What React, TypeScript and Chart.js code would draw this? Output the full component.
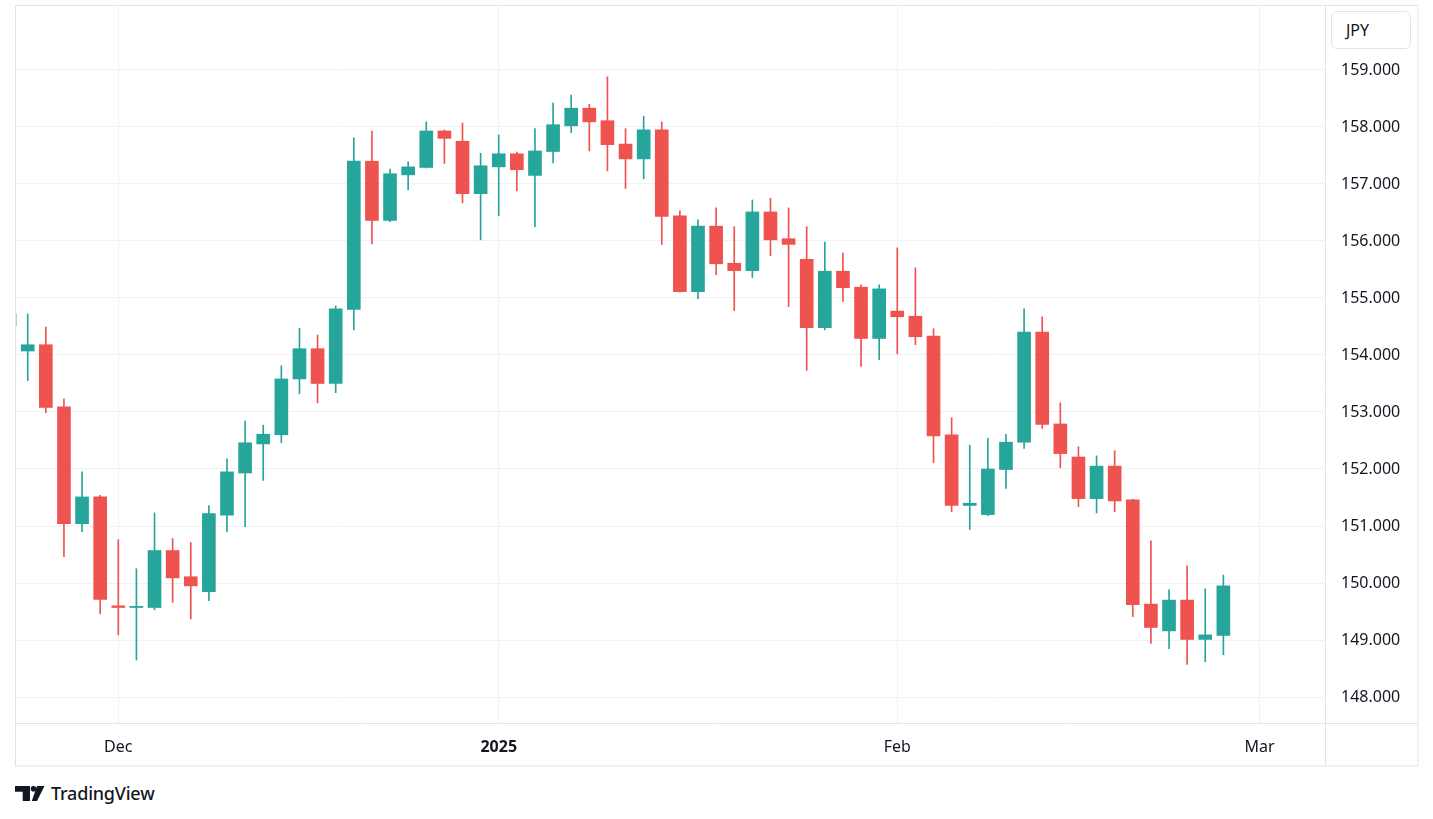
import React, { useEffect, useRef } from 'react';
import { Chart, registerables } from 'chart.js';

Chart.register(...registerables);

// Trading days shown (USD/JPY daily candles)
const dates = [
  '2024-11-22', '2024-11-25', '2024-11-26', '2024-11-27', '2024-11-28', '2024-11-29',
  '2024-12-02', '2024-12-03', '2024-12-04', '2024-12-05', '2024-12-06',
  '2024-12-09', '2024-12-10', '2024-12-11', '2024-12-12', '2024-12-13',
  '2024-12-16', '2024-12-17', '2024-12-18', '2024-12-19', '2024-12-20',
  '2024-12-23', '2024-12-24', '2024-12-26', '2024-12-27', '2024-12-30', '2024-12-31',
  '2025-01-02', '2025-01-03',
  '2025-01-06', '2025-01-07', '2025-01-08', '2025-01-09', '2025-01-10',
  '2025-01-13', '2025-01-14', '2025-01-15', '2025-01-16', '2025-01-17',
  '2025-01-20', '2025-01-21', '2025-01-22', '2025-01-23', '2025-01-24',
  '2025-01-27', '2025-01-28', '2025-01-29', '2025-01-30', '2025-01-31',
  '2025-02-03', '2025-02-04', '2025-02-05', '2025-02-06', '2025-02-07',
  '2025-02-10', '2025-02-11', '2025-02-12', '2025-02-13', '2025-02-14',
  '2025-02-17', '2025-02-18', '2025-02-19', '2025-02-20', '2025-02-21',
  '2025-02-24', '2025-02-25', '2025-02-26', '2025-02-27',
];

const opens = [
  154.51, 154.07, 154.18, 153.09, 151.04, 151.51,
  149.60, 149.57, 149.57, 150.57, 150.11,
  149.85, 151.19, 151.93, 152.44, 152.60,
  153.58, 154.11, 153.50, 154.80, 157.40,
  156.36, 157.16, 157.29, 157.93, 157.75, 156.83,
  157.30, 157.53,
  157.15, 157.57, 158.02, 158.33, 158.11,
  157.70, 157.44, 157.95, 156.44, 155.11,
  156.26, 155.61, 155.48, 156.51, 156.04,
  155.68, 154.48, 155.47, 155.19, 154.29,
  154.77, 154.68, 154.33, 152.60, 151.36,
  151.20, 151.99, 152.47, 154.40, 152.79,
  152.21, 151.48, 152.05, 151.46, 149.63,
  149.16, 149.70, 149.01, 149.08,
];

const highs = [
  154.90, 154.72, 154.49, 153.23, 151.95, 151.54,
  150.76, 150.25, 151.23, 150.78, 150.71,
  151.36, 152.18, 152.84, 152.77, 153.81,
  154.47, 154.35, 154.86, 157.81, 157.93,
  157.26, 157.39, 158.09, 157.95, 158.07, 157.54,
  157.86, 157.56,
  157.97, 158.42, 158.56, 158.40, 158.88,
  157.97, 158.19, 158.09, 156.53, 156.37,
  156.58, 156.25, 156.72, 156.75, 156.58,
  156.25, 155.98, 155.79, 155.23, 155.23,
  155.88, 155.53, 154.46, 152.90, 152.42,
  152.54, 152.61, 154.81, 154.67, 153.16,
  152.39, 152.23, 152.32, 151.47, 150.74,
  149.88, 150.30, 149.90, 150.14,
];

const lows = [
  154.30, 153.55, 152.99, 150.46, 150.90, 149.46,
  149.09, 148.65, 149.53, 149.66, 149.37,
  149.69, 150.90, 150.99, 151.80, 152.46,
  153.32, 153.16, 153.34, 154.44, 155.95,
  156.34, 156.90, 157.28, 157.36, 156.67, 156.02,
  156.44, 156.88,
  156.25, 157.37, 157.90, 157.58, 157.23,
  156.92, 157.09, 155.94, 155.10, 154.99,
  155.41, 154.78, 155.36, 155.74, 154.85,
  153.73, 154.44, 154.94, 153.80, 153.92,
  154.02, 154.18, 152.11, 151.25, 150.94,
  151.18, 151.66, 152.36, 152.71, 152.02,
  151.34, 151.23, 151.25, 149.41, 148.94,
  148.85, 148.57, 148.62, 148.74,
];

const closes = [
  154.72, 154.18, 153.08, 151.04, 151.51, 149.71,
  149.57, 149.59, 150.57, 150.09, 149.95,
  151.22, 151.95, 152.46, 152.61, 153.58,
  154.11, 153.50, 154.81, 157.40, 156.36,
  157.18, 157.30, 157.93, 157.80, 156.83, 157.32,
  157.53, 157.25,
  157.58, 158.04, 158.33, 158.09, 157.69,
  157.44, 157.95, 156.43, 155.11, 156.26,
  155.60, 155.48, 156.51, 156.02, 155.94,
  154.48, 155.47, 155.18, 154.29, 155.16,
  154.67, 154.32, 152.58, 151.36, 151.40,
  152.00, 152.47, 154.40, 152.78, 152.27,
  151.48, 152.05, 151.44, 149.62, 149.22,
  149.70, 149.01, 149.09, 149.95,
];

const priceTicks = [148, 149, 150, 151, 152, 153, 154, 155, 156, 157, 158, 159];
const timeTickPositions = [6, 27, 49, 69];
const timeTickLabels = ['Dec', '2025', 'Feb', 'Mar'];
const currencyLabel = 'JPY';

const UP = '#26a69a';
const DOWN = '#ef5350';
const LINE = '#e0e3eb';
const GRID = '#f0f1f3';
const TEXT = '#131722';
const FONT = "'Noto Sans', sans-serif";

export default function App() {
  const ref = useRef<HTMLCanvasElement>(null);

  useEffect(() => {
    if (!ref.current) return;
    const colorAt = (ctx: any) =>
      closes[ctx.dataIndex] >= opens[ctx.dataIndex] ? UP : DOWN;
    const wickData = dates.map((_, i) => ({ x: i, y: [lows[i], highs[i]] }));
    const bodyData = dates.map((_, i) => ({ x: i, y: [opens[i], closes[i]] }));

    const frame = {
      id: 'frame',
      afterDraw(chart: any) {
        const { ctx, chartArea, width, height } = chart;
        ctx.save();
        ctx.strokeStyle = LINE;
        ctx.lineWidth = 1;
        ctx.beginPath();
        ctx.rect(0.5, 0.5, width - 1.5, height - 1.5);
        ctx.moveTo(Math.round(chartArea.right) + 0.5, 0);
        ctx.lineTo(Math.round(chartArea.right) + 0.5, height - 1);
        ctx.moveTo(0, Math.round(chartArea.bottom) + 0.5);
        ctx.lineTo(width - 1, Math.round(chartArea.bottom) + 0.5);
        ctx.stroke();
        ctx.restore();
      },
    };

    const chart = new Chart(ref.current, {
      type: 'bar',
      data: {
        datasets: [
          {
            label: 'wick',
            data: wickData as any,
            backgroundColor: colorAt,
            barThickness: 1,
            grouped: false,
            order: 2,
          } as any,
          {
            label: 'body',
            data: bodyData as any,
            backgroundColor: colorAt,
            barThickness: 13,
            grouped: false,
            minBarLength: 1,
            order: 1,
          } as any,
        ],
      },
      options: {
        animation: false,
        responsive: false,
        maintainAspectRatio: false,
        layout: { padding: { left: 0, top: 0, right: 1, bottom: 1 } },
        plugins: { legend: { display: false }, tooltip: { enabled: false } },
        scales: {
          x: {
            type: 'linear',
            min: 0.298,
            max: 72.61,
            offset: false,
            grid: { color: GRID, drawTicks: false, offset: false },
            border: { display: false },
            afterBuildTicks: (s: any) => {
              s.ticks = timeTickPositions.map((v) => ({ value: v }));
            },
            afterFit: (s: any) => {
              s.height = 43;
              s.paddingLeft = 0;
              s.paddingRight = 0;
              s.paddingTop = 0;
              s.paddingBottom = 0;
            },
            ticks: {
              autoSkip: false,
              maxRotation: 0,
              padding: 15,
              color: TEXT,
              callback: (v: any) => {
                const k = timeTickPositions.indexOf(Number(v));
                return k >= 0 ? timeTickLabels[k] : '';
              },
              font: (ctx: any) => ({
                family: FONT,
                size: 16,
                weight: ctx.tick && ctx.tick.label === '2025' ? 'bold' : 'normal',
              }),
            },
          } as any,
          y: {
            type: 'linear',
            position: 'right',
            min: 147.544,
            max: 160.14,
            grid: { color: GRID, drawTicks: false },
            border: { display: false },
            afterBuildTicks: (s: any) => {
              s.ticks = priceTicks.map((v) => ({ value: v }));
            },
            afterFit: (s: any) => {
              s.width = 93;
              s.paddingLeft = 0;
              s.paddingRight = 0;
              s.paddingTop = 0;
              s.paddingBottom = 0;
            },
            ticks: {
              padding: 16,
              color: TEXT,
              font: { family: FONT, size: 16 },
              callback: (v: any) => Number(v).toFixed(3),
            },
          } as any,
        },
      },
      plugins: [frame],
    });
    return () => chart.destroy();
  }, []);

  return (
    <div
      style={{
        position: 'absolute',
        left: 0,
        top: 0,
        width: 1433,
        height: 819,
        background: '#ffffff',
        fontFamily: FONT,
        color: TEXT,
        overflow: 'hidden',
      }}
    >
      <canvas
        ref={ref}
        width={1404}
        height={762}
        style={{ position: 'absolute', left: 15, top: 5, width: 1404, height: 762 }}
      />
      <div
        style={{
          position: 'absolute',
          left: 1331,
          top: 11,
          width: 80,
          height: 38,
          border: `1px solid ${LINE}`,
          borderRadius: 6,
          background: '#fff',
          fontSize: 16,
          lineHeight: '36px',
          paddingLeft: 14,
          boxSizing: 'border-box',
        }}
      >
        {currencyLabel}
      </div>
      <div
        style={{
          position: 'absolute',
          left: 15,
          top: 779,
          height: 28,
          display: 'flex',
          alignItems: 'center',
          gap: 6,
        }}
      >
        <svg width="30" height="15" viewBox="0 0 30 15">
          <path d="M0 0H15V15H7.7V5.7H0Z" fill={TEXT} />
          <circle cx="18.5" cy="2.8" r="2.8" fill={TEXT} />
          <path d="M22 0H29.5L22 15H16.8Z" fill={TEXT} />
        </svg>
        <span style={{ fontSize: 18, fontWeight: 500, letterSpacing: -0.2 }}>TradingView</span>
      </div>
    </div>
  );
}
